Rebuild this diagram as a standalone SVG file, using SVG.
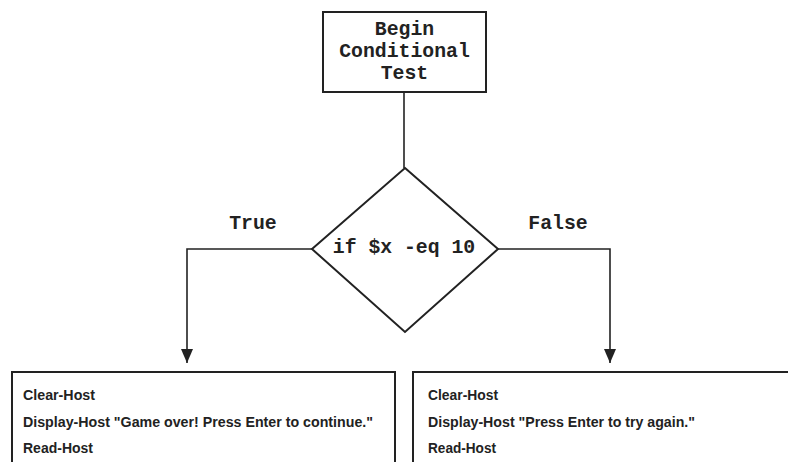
<svg xmlns="http://www.w3.org/2000/svg" width="788" height="462" viewBox="0 0 788 462">
  <style>
    .box { fill: #fff; stroke: #222; stroke-width: 2; }
    .wire { fill: none; stroke: #222; stroke-width: 1.6; }
    .mono { font-family: "Liberation Mono", "Courier New", monospace; font-weight: bold; font-size: 19.8px; fill: #222; }
    .cmd { font-family: "Liberation Sans", Arial, sans-serif; font-weight: bold; font-size: 14.5px; fill: #222; }
  </style>
  <defs>
    <!-- downward arrowhead; tip sits at the marker's reference point -->
    <marker id="arrow" viewBox="0 0 14 12" refX="14" refY="6" markerWidth="14" markerHeight="12" markerUnits="userSpaceOnUse" orient="auto">
      <path d="M0,0 L14,6 L0,12 Z" fill="#222"/>
    </marker>
  </defs>
  <rect width="788" height="462" fill="#fff"/>

  <g id="connectors">
    <line class="wire" x1="404" y1="92" x2="404" y2="168"/>
    <polyline class="wire" points="312,249 187,249 187,363" marker-end="url(#arrow)"/>
    <polyline class="wire" points="498,249 610,249 610,363" marker-end="url(#arrow)"/>
    <text class="mono" x="253" y="229" text-anchor="middle">True</text>
    <text class="mono" x="558" y="229" text-anchor="middle">False</text>
  </g>

  <g id="begin">
    <rect class="box" x="323" y="12" width="163" height="80"/>
    <text class="mono" x="404.5" y="35" text-anchor="middle">Begin</text>
    <text class="mono" x="404.5" y="57" text-anchor="middle">Conditional</text>
    <text class="mono" x="404.5" y="79" text-anchor="middle">Test</text>
  </g>

  <g id="condition">
    <polygon class="box" points="405,168 498,249 405,332 312,249"/>
    <text class="mono" x="404" y="253" text-anchor="middle">if $x -eq 10</text>
  </g>

  <g id="true-branch">
    <rect class="box" x="12" y="372" width="383" height="100"/>
    <text class="cmd" x="23" y="400" textLength="72" lengthAdjust="spacingAndGlyphs">Clear-Host</text>
    <text class="cmd" x="23" y="427" textLength="350" lengthAdjust="spacingAndGlyphs">Display-Host "Game over! Press Enter to continue."</text>
    <text class="cmd" x="23" y="453" textLength="70" lengthAdjust="spacingAndGlyphs">Read-Host</text>
  </g>

  <g id="false-branch">
    <rect class="box" x="413" y="372" width="390" height="100"/>
    <text class="cmd" x="428" y="400" textLength="70" lengthAdjust="spacingAndGlyphs">Clear-Host</text>
    <text class="cmd" x="428" y="427" textLength="267" lengthAdjust="spacingAndGlyphs">Display-Host "Press Enter to try again."</text>
    <text class="cmd" x="428" y="453" textLength="68" lengthAdjust="spacingAndGlyphs">Read-Host</text>
  </g>
</svg>
